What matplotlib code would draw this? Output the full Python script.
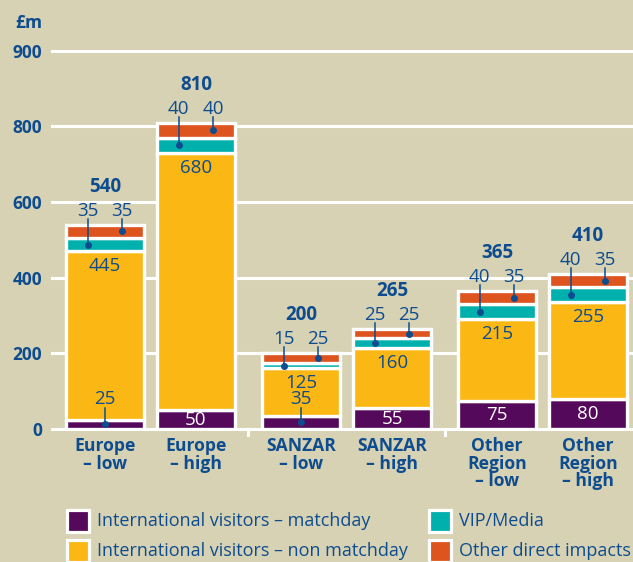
import matplotlib
matplotlib.use("Agg")
import matplotlib.pyplot as plt
from matplotlib.patches import Rectangle

categories = ["Europe\n– low", "Europe\n– high", "SANZAR\n– low", "SANZAR\n– high",
              "Other\nRegion\n– low", "Other\nRegion\n– high"]
matchday = [25, 50, 35, 55, 75, 80]
non_matchday = [445, 680, 125, 160, 215, 255]
vip_media = [35, 40, 15, 25, 40, 40]
other_direct = [35, 40, 25, 25, 35, 35]
totals = [540, 810, 200, 265, 365, 410]
series_names = ["International visitors – matchday", "International visitors – non matchday",
                "VIP/Media", "Other direct impacts"]
ytick_values = [0, 200, 400, 600, 800, 1000]
ytick_labels = ["0", "200", "400", "600", "800", "900"]

BG = "#d8d2b4"
PURPLE = "#55095a"
YELLOW = "#fbb713"
TEAL = "#00b0ad"
ORANGE = "#dd541f"
BLUE = "#0d4c8f"
FONT = "Open Sans"

plt.rcParams["font.family"] = [FONT, "DejaVu Sans"]

W, H = 633, 562
fig = plt.figure(figsize=(W / 100, H / 100), dpi=100, facecolor=BG)
ax_left, ax_right, ax_bottom, ax_top = 52, 633, 429, 13
ax = fig.add_axes([ax_left / W, 1 - ax_bottom / H, (ax_right - ax_left) / W, (ax_bottom - ax_top) / H])
ax.set_facecolor(BG)

pos = [0, 1, 2.154, 3.154, 4.308, 5.308]
ax.set_xlim(-0.582, 5.802)
ax.set_ylim(0, 1100)
py = 1100 / (ax_bottom - ax_top)   # data units per pixel (y)

for s in ax.spines.values():
    s.set_visible(False)

# grid
for yv in ytick_values:
    ax.axhline(yv, color="white", lw=2.2, zorder=0, clip_on=False)
# separator ticks
for xs in [(pos[1] + pos[2]) / 2, (pos[3] + pos[4]) / 2]:
    ax.plot([xs, xs], [0, -6 * py], color="white", lw=2.2, clip_on=False, zorder=0)

width = 0.85
colors = [PURPLE, YELLOW, TEAL, ORANGE]
bottom = [0] * 6
for vals, col in zip([matchday, non_matchday, vip_media, other_direct], colors):
    ax.bar(pos, vals, width=width, bottom=bottom, color=col, edgecolor="white", linewidth=2.4, zorder=2)
    bottom = [b + v for b, v in zip(bottom, vals)]

ax.set_yticks(ytick_values, ytick_labels)
ax.tick_params(axis="y", length=0, pad=7, labelsize=12.5, labelcolor=BLUE)
for t in ax.get_yticklabels():
    t.set_fontweight("bold")
ax.set_xticks(pos, categories)
ax.tick_params(axis="x", length=0, pad=6, labelsize=12.6, labelcolor=BLUE)
for t in ax.get_xticklabels():
    t.set_fontweight("bold")
    t.set_linespacing(0.95)

fig.text(29 / W, 1 - 22.5 / H, "£m", ha="center", va="center", fontsize=12.5,
         fontweight="bold", color=BLUE)

def leader(x, y_top, y_dot):
    ax.plot([x, x], [y_top, y_dot], color=BLUE, lw=1.1, zorder=4, clip_on=False)
    ax.plot([x], [y_dot], "o", color=BLUE, ms=4, zorder=5, clip_on=False)

fs = 13.5
dx = 0.19
for i, x in enumerate(pos):
    m, n, v, o, tot = matchday[i], non_matchday[i], vip_media[i], other_direct[i], totals[i]
    top = m + n + v + o
    # total
    ax.text(x, top + 38 * py, str(tot), ha="center", va="center", fontsize=13.5,
            fontweight="bold", color=BLUE, zorder=5)
    # VIP and other labels above bar
    ylab = top + 14 * py
    ax.text(x - dx, ylab, str(v), ha="center", va="center", fontsize=fs, color=BLUE, zorder=5)
    ax.text(x + dx, ylab, str(o), ha="center", va="center", fontsize=fs, color=BLUE, zorder=5)
    leader(x - dx, ylab - 8 * py, m + n + v / 2)
    leader(x + dx, ylab - 8 * py, m + n + v + o / 2)
    # non matchday
    ax.text(x, m + n - 15 * py, str(n), ha="center", va="center", fontsize=fs, color=BLUE, zorder=5)
    # matchday
    if m < 40:
        ylm = 30 * py
        ax.text(x, ylm, str(m), ha="center", va="center", fontsize=fs, color=BLUE, zorder=5)
        leader(x, ylm - 9 * py, m / 2)
    else:
        ax.text(x, m / 2, str(m), ha="center", va="center", fontsize=fs, color="white", zorder=5)

# legend
leg_items = [(67, 521), (67, 551), (429, 521), (429, 551)]
for (lx, ly), name, col in zip(leg_items, series_names, colors):
    sz = 22
    fig.patches.append(Rectangle((lx / W, 1 - (ly + sz / 2) / H), sz / W, sz / H,
                                 transform=fig.transFigure, facecolor=col,
                                 edgecolor="white", linewidth=2.3))
    fig.text((lx + sz + 8) / W, 1 - ly / H, name, ha="left", va="center",
             fontsize=13, color=BLUE)

fig.savefig("out.png", dpi=100, facecolor=BG)
